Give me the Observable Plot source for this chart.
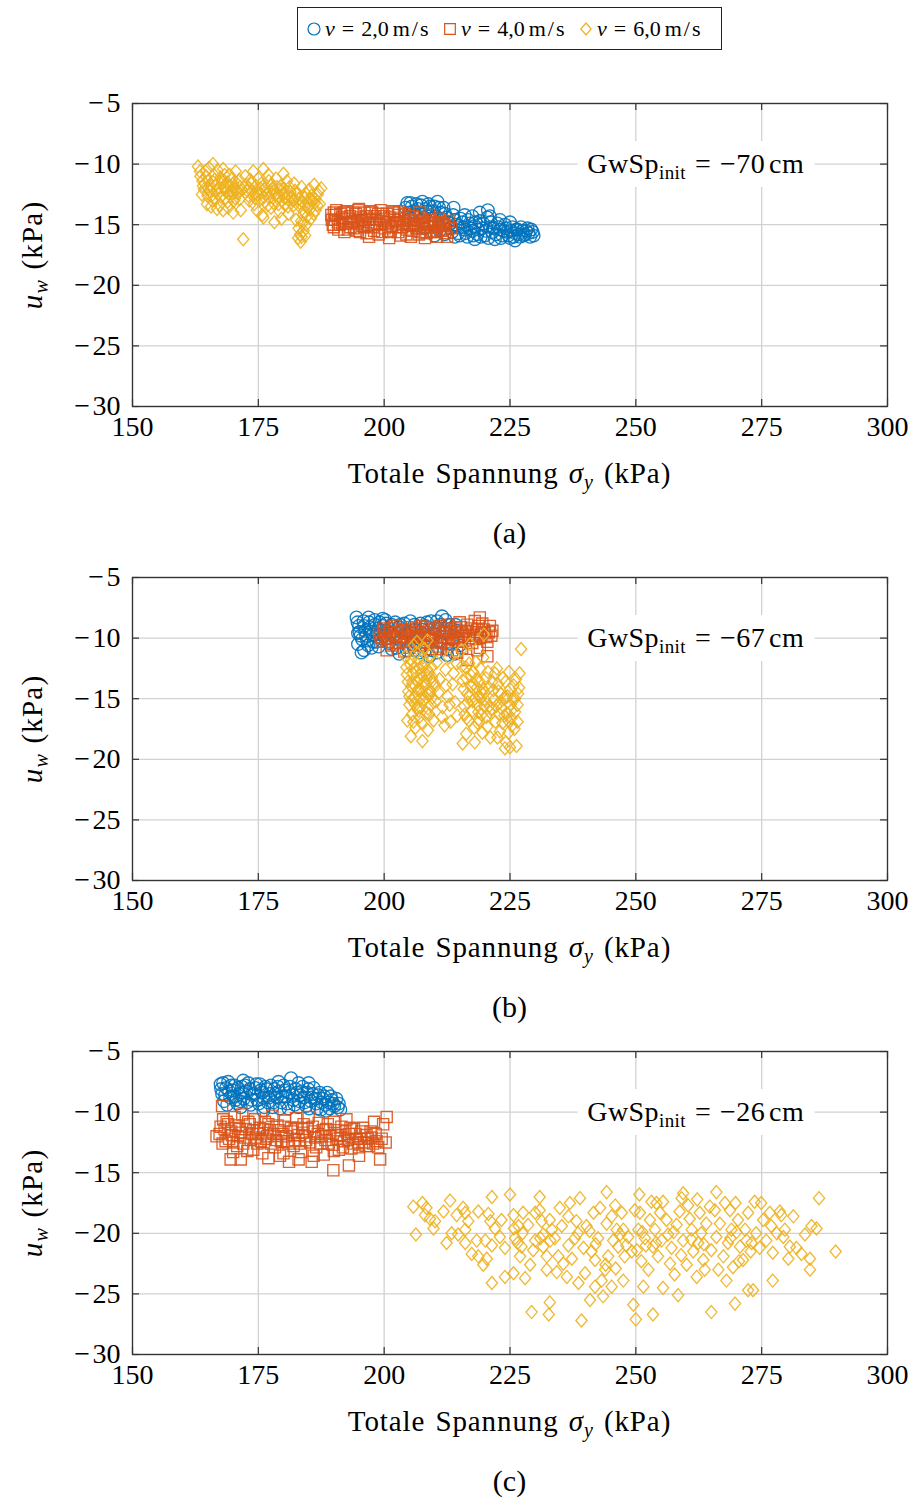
<!DOCTYPE html>
<html><head><meta charset="utf-8">
<script src="https://cdn.jsdelivr.net/npm/d3@7"></script>
<script src="https://cdn.jsdelivr.net/npm/@observablehq/plot@0.6"></script>
<style>
html,body{margin:0;padding:0;background:#fff;}
body{width:916px;height:1499px;position:relative;overflow:hidden;font-family:"Liberation Serif",serif;color:#000;}
.panel{position:absolute;left:0;width:916px;height:474px;}
.panel svg{position:absolute;left:0;top:0;}
.legend{position:absolute;left:297px;top:7px;width:425px;height:43px;border:1px solid #222;display:flex;align-items:center;padding-left:8px;box-sizing:border-box;font-size:22px;white-space:nowrap;}
.litem{display:flex;align-items:center;width:136px;}
.litem svg{margin-right:3px;}
.eq{margin:0 7px;}
.unit{margin-left:4px;letter-spacing:2px;}
.annot{position:absolute;transform:translate(-50%,-50%);background:#fff;padding:8px 10px;font-size:28px;line-height:30px;letter-spacing:0.4px;white-space:nowrap;}
.annot .eq{margin:0 9px;}
.annot sub{font-size:19px;line-height:0;vertical-align:-6px;}
.xlab{position:absolute;left:509.5px;transform:translateX(-50%);font-size:29px;line-height:30px;letter-spacing:0.9px;word-spacing:2px;white-space:nowrap;}
.xlab sub{font-size:20px;line-height:0;vertical-align:-6px;}
.ylab{position:absolute;left:32px;top:171.5px;transform:translate(-50%,-50%) rotate(-90deg);font-size:29px;line-height:30px;letter-spacing:1.2px;word-spacing:1px;white-space:nowrap;}
.ylab sub{font-size:20px;line-height:0;vertical-align:-6px;}
.cap{position:absolute;left:509.5px;transform:translateX(-50%);font-size:30px;line-height:30px;}
</style></head><body>
<div id="legend" class="legend"></div>
<div id="p0" class="panel" style="top:83px"></div>
<div id="p1" class="panel" style="top:557px"></div>
<div id="p2" class="panel" style="top:1031px"></div>
<script>
// ---- axes / labels ----
const xTicks = [150, 175, 200, 225, 250, 275, 300];
const yTicks = [-30, -25, -20, -15, -10, -5];
const speeds = ["2,0", "4,0", "6,0"];
const colors = ["#0072BD", "#D95319", "#EDB120"];
const gwInit = ["−70", "−67", "−26"];
const captions = ["(a)", "(b)", "(c)"];
const annotX = 262, annotY = -10;

// ---- panel (a) ----
const a_v2 = [[204.3,-13.6],[204.8,-14.4],[205.2,-13.2],[205.8,-13.9],[206.4,-13.3],[207.0,-14.1],[207.6,-13.1],[208.2,-13.7],[208.8,-13.3],[209.4,-14.2],[210.0,-13.5],[210.6,-13.1],[211.2,-14.0],[211.8,-13.6],[212.4,-14.4],[213.0,-14.9],[213.5,-15.6],[214.0,-14.6],[214.5,-15.2],[215.0,-15.9],[215.5,-14.8],[216.0,-15.4],[216.5,-16.0],[217.0,-14.9],[217.5,-15.5],[218.0,-15.1],[218.5,-15.8],[219.0,-14.7],[219.5,-15.3],[220.0,-15.9],[220.5,-14.4],[221.0,-15.2],[221.5,-15.6],[222.0,-16.2],[222.5,-14.9],[223.0,-15.4],[223.5,-15.9],[224.0,-15.0],[224.5,-15.6],[225.0,-16.1],[225.5,-15.2],[226.0,-15.7],[226.5,-15.4],[227.0,-16.0],[227.5,-15.5],[228.0,-15.8],[228.5,-15.3],[229.0,-16.0],[229.5,-15.6],[212.0,-15.8],[210.0,-15.9],[208.0,-15.3],[206.0,-14.9],[219.0,-14.0],[213.8,-13.6],[223.0,-14.6],[216.0,-14.2],[220.6,-13.8],
 [204.6,-13.2],[205.0,-14.0],[205.5,-13.5],[206.1,-14.3],[206.7,-13.7],[207.3,-13.4],[207.9,-14.4],[208.5,-13.9],[209.1,-13.5],[209.7,-13.9],[210.3,-14.3],[210.9,-13.6],[211.5,-14.5],[212.1,-14.1],[212.7,-14.8],[213.2,-15.3],[213.7,-14.2],[214.2,-15.0],[214.7,-15.7],[215.2,-14.5],[215.7,-15.2],[216.2,-15.7],[216.7,-14.6],[217.2,-15.3],[217.7,-15.9],[218.2,-14.8],[218.7,-15.4],[219.2,-16.0],[219.7,-14.9],[220.2,-15.5],[220.7,-16.1],[221.2,-14.8],[221.7,-15.3],[222.2,-15.8],[222.7,-15.2],[223.2,-16.1],[223.7,-15.5],[224.2,-15.3],[224.7,-15.9],[225.2,-15.5],[225.7,-16.0],[226.2,-15.4],[226.7,-15.8],[227.2,-15.2],[227.7,-15.9],[228.2,-15.5],[228.7,-15.7],[229.2,-15.4],[229.7,-15.9],[221.0,-14.3],[225.0,-14.8],[217.5,-14.3],[211.0,-15.5],[214.0,-16.0],[218.0,-16.2],[226.0,-16.3]];
const a_v4 = [[189.5,-14.2],[189.8,-15.0],[190.2,-14.6],[190.5,-13.8],[190.9,-15.4],[191.3,-14.1],[191.7,-14.9],[192.1,-15.6],[192.5,-13.9],[192.9,-14.5],[193.3,-15.2],[193.7,-14.0],[194.1,-14.7],[194.5,-15.5],[194.9,-13.8],[195.3,-14.4],[195.7,-15.1],[196.1,-14.0],[196.5,-15.7],[196.9,-14.6],[197.3,-13.9],[197.7,-15.2],[198.1,-14.3],[198.5,-14.9],[198.9,-15.8],[199.3,-13.8],[199.7,-14.5],[200.1,-15.3],[200.5,-14.1],[200.9,-14.8],[201.3,-15.6],[201.7,-13.9],[202.1,-14.6],[202.5,-15.2],[202.9,-14.2],[203.3,-15.9],[203.7,-14.9],[204.1,-14.1],[204.5,-15.4],[204.9,-14.6],[205.3,-16.0],[205.7,-14.3],[206.1,-15.1],[206.5,-14.7],[206.9,-15.8],[207.3,-14.4],[207.7,-15.3],[208.1,-16.1],[208.5,-14.9],[208.9,-14.2],[209.3,-15.6],[209.7,-14.8],[210.1,-15.2],[210.5,-16.0],[210.9,-14.5],[211.3,-15.4],[211.7,-14.9],[212.1,-15.7],[212.8,-14.7],[213.3,-15.3],
 [189.6,-14.6],[190.0,-15.2],[190.4,-14.2],[190.8,-14.8],[191.2,-15.0],[191.6,-14.4],[192.0,-14.0],[192.4,-14.9],[192.8,-15.4],[193.2,-14.3],[193.6,-14.8],[194.0,-15.3],[194.4,-14.1],[194.8,-14.9],[195.2,-15.6],[195.6,-14.6],[196.0,-15.2],[196.4,-14.3],[196.8,-15.0],[197.2,-14.5],[197.6,-14.0],[198.0,-15.5],[198.4,-14.6],[198.8,-14.1],[199.2,-15.0],[199.6,-15.6],[200.0,-14.3],[200.4,-14.9],[200.8,-15.5],[201.2,-14.4],[201.6,-15.1],[202.0,-14.0],[202.4,-14.8],[202.8,-15.6],[203.2,-14.5],[203.6,-15.2],[204.0,-14.7],[204.4,-15.8],[204.8,-14.3],[205.2,-15.0],[205.6,-15.5],[206.0,-14.6],[206.4,-15.3],[206.8,-14.9],[207.2,-15.6],[207.6,-14.7],[208.0,-15.0],[208.4,-15.7],[208.8,-15.2],[209.2,-14.6],[209.6,-15.5],[210.0,-14.9],[210.4,-15.6],[210.8,-15.1],[211.2,-14.8],[211.6,-15.5],[212.0,-15.0],[190.0,-14.0],[195.0,-13.7],[203.0,-13.9],[207.0,-14.0],[197.0,-16.0],[201.0,-16.1],[212.5,-16.0]];
const a_v6 = [[163.0,-10.2],[163.5,-11.0],[164.0,-11.8],[163.8,-12.5],[164.5,-10.6],[165.0,-11.4],[165.3,-12.2],[165.8,-13.0],[166.0,-10.0],[166.2,-10.9],[166.6,-11.7],[167.0,-12.4],[167.3,-13.4],[167.5,-11.1],[168.0,-10.4],[168.2,-12.0],[168.5,-12.8],[168.8,-11.5],[169.0,-13.6],[169.3,-10.9],[169.6,-12.2],[170.0,-11.6],[170.2,-13.0],[170.5,-10.6],[170.8,-12.4],[171.2,-11.3],[171.5,-13.8],[166.8,-13.7],[164.8,-13.3],[172.0,-16.2],[172.4,-11.0],[172.8,-12.2],[173.2,-13.0],[173.6,-11.6],[174.0,-10.6],[174.3,-12.8],[174.7,-13.8],[175.0,-11.2],[175.4,-12.0],[175.8,-14.2],[176.0,-10.4],[176.3,-13.1],[176.7,-12.4],[177.1,-11.4],[177.5,-13.6],[177.8,-12.0],[178.2,-14.8],[178.5,-11.2],[178.8,-12.8],[179.2,-13.9],[179.5,-11.8],[179.9,-12.5],[180.3,-13.3],[180.7,-11.4],[181.0,-14.1],[181.4,-12.3],[181.8,-13.0],[182.1,-11.6],[182.5,-14.6],[182.8,-12.4],[183.0,-15.3],[183.2,-13.5],[183.4,-16.4],[183.6,-11.9],[183.9,-14.2],[184.2,-12.8],[184.5,-15.0],[184.8,-13.6],[185.1,-12.1],[185.4,-14.5],[185.8,-13.0],[186.1,-11.7],[186.4,-13.8],[186.8,-12.5],[187.2,-13.3],[187.5,-12.0],[183.3,-15.8],[182.9,-16.1],
 [163.4,-10.6],[163.9,-11.4],[164.2,-12.1],[164.6,-11.0],[164.9,-12.6],[165.2,-10.3],[165.5,-11.8],[165.9,-12.5],[166.3,-11.3],[166.5,-12.9],[166.9,-10.5],[167.2,-11.9],[167.6,-12.7],[167.9,-11.5],[168.3,-10.9],[168.6,-12.3],[168.9,-13.1],[169.2,-11.8],[169.5,-12.6],[169.8,-11.2],[170.1,-12.0],[170.4,-12.8],[170.7,-11.6],[171.0,-12.3],[171.3,-12.9],[171.7,-12.1],[165.6,-13.5],[168.0,-13.8],[170.0,-14.0],
 [172.6,-11.7],[173.0,-12.6],[173.4,-11.3],[173.8,-12.2],[174.2,-13.3],[174.5,-11.8],[174.9,-12.5],[175.2,-13.0],[175.6,-11.6],[176.1,-12.7],[176.5,-11.9],[176.9,-13.4],[177.3,-12.3],[177.7,-11.7],[178.0,-13.2],[178.4,-12.5],[178.7,-11.9],[179.0,-13.3],[179.4,-12.1],[179.7,-13.0],[180.1,-12.0],[180.5,-12.8],[180.9,-13.5],[181.2,-11.9],[181.6,-12.7],[182.0,-13.4],[182.3,-12.2],[176.0,-14.4],[179.6,-14.5],[177.0,-10.9],[180.0,-10.8],
 [183.0,-12.9],[183.5,-14.7],[183.8,-13.1],[184.1,-13.9],[184.4,-12.4],[184.7,-14.3],[185.0,-13.2],[185.3,-13.7],[185.6,-12.6],[186.0,-14.1],[186.3,-12.9],[186.7,-13.4],[187.0,-12.2],[184.0,-15.5],[183.6,-16.0],
 [164.3,-11.6],[165.1,-12.0],[166.0,-11.5],[166.8,-12.2],[167.7,-11.4],[168.4,-11.9],[169.1,-12.4],[169.9,-12.3],[170.6,-12.1],[171.4,-11.9],[173.1,-12.0],[174.0,-12.6],[175.0,-12.3],[176.2,-12.1],[177.2,-12.8],[178.1,-12.3],[179.1,-12.6],[180.2,-12.4],[181.1,-13.0],[182.2,-12.9],[183.2,-13.2],[184.3,-13.4],[185.2,-12.9],[186.2,-13.2],[183.7,-14.9],[184.3,-15.9]];

// ---- panel (b) ----
const b_v2 = [[194.5,-8.3],[195.0,-9.0],[195.3,-9.8],[194.8,-10.5],[195.5,-11.2],[195.9,-8.6],[196.2,-9.4],[196.6,-10.2],[196.9,-8.3],[197.2,-9.1],[197.5,-10.8],[197.8,-9.7],[198.1,-8.5],[198.4,-10.3],[198.8,-9.2],[199.1,-8.7],[199.4,-10.0],[199.8,-9.0],[200.2,-8.5],[200.6,-9.4],[201.0,-10.4],[201.5,-8.9],[202.0,-9.8],[202.5,-10.8],[203.0,-9.1],[203.5,-10.1],[204.0,-8.8],[204.5,-11.0],[205.0,-9.5],[205.5,-10.5],[206.0,-8.9],[206.5,-10.0],[207.0,-11.2],[207.5,-9.3],[208.0,-10.6],[208.5,-8.7],[209.0,-9.8],[209.5,-11.0],[210.0,-9.2],[210.5,-8.6],[211.0,-10.3],[211.5,-8.2],[212.0,-9.6],[212.5,-10.9],[213.0,-8.9],[213.5,-10.1],[214.0,-11.3],[214.5,-9.4],[215.0,-10.6],[209.0,-11.5],[203.0,-11.3],
 [194.7,-8.7],[195.1,-9.5],[195.6,-10.1],[196.0,-9.0],[196.4,-9.8],[196.8,-10.6],[197.0,-8.7],[197.4,-9.5],[197.9,-10.3],[198.2,-8.9],[198.6,-9.6],[198.9,-10.7],[199.3,-9.4],[199.7,-8.4],[200.0,-9.8],[200.4,-8.8],[201.2,-9.6],[202.2,-8.7],[203.2,-8.9],[204.2,-9.6],[205.2,-8.6],[206.2,-9.3],[207.2,-8.8],[208.2,-9.0],[209.3,-8.6],[210.2,-9.7],[211.2,-8.9],[212.2,-8.5],[213.2,-9.2],[214.2,-8.9],[208.0,-11.1],[210.5,-11.2],[212.5,-11.4],[206.0,-11.0],[201.5,-10.9],[196.0,-11.0],[194.8,-9.6]];
const b_v4 = [[199.0,-9.6],[199.5,-10.3],[200.0,-9.2],[200.5,-10.0],[201.0,-9.5],[201.5,-10.6],[202.0,-9.0],[202.5,-9.9],[203.0,-10.4],[203.5,-9.3],[204.0,-10.0],[204.5,-9.6],[205.0,-10.8],[205.5,-9.1],[206.0,-10.2],[206.5,-9.5],[207.0,-10.6],[207.5,-9.0],[208.0,-9.8],[208.5,-10.4],[209.0,-9.3],[209.5,-10.1],[210.0,-9.6],[210.5,-10.7],[211.0,-9.0],[211.5,-9.9],[212.0,-10.3],[212.5,-8.9],[213.0,-9.7],[213.5,-10.5],[214.0,-9.2],[214.5,-10.0],[215.0,-8.7],[215.5,-9.5],[216.0,-10.2],[216.5,-8.9],[217.0,-9.7],[217.5,-10.4],[218.0,-8.6],[218.5,-9.3],[219.0,-10.0],[219.5,-8.8],[220.0,-9.6],[220.5,-10.3],[221.0,-9.0],[221.5,-9.4],[219.0,-8.3],[214.5,-11.2],[216.5,-11.8],[218.5,-11.0],[220.5,-11.5],[211.0,-10.9],[200.5,-11.0],[204.0,-11.1],
 [199.3,-9.9],[199.8,-9.4],[200.3,-9.7],[200.8,-10.3],[201.3,-9.2],[201.8,-9.8],[202.3,-10.4],[202.8,-9.5],[203.3,-9.9],[203.8,-9.4],[204.3,-10.3],[204.8,-9.3],[205.3,-9.8],[205.8,-10.5],[206.3,-9.2],[206.8,-9.9],[207.3,-10.3],[207.8,-9.5],[208.3,-9.1],[208.8,-10.0],[209.3,-9.7],[209.8,-9.2],[210.3,-10.2],[210.8,-9.4],[211.3,-10.4],[211.8,-9.5],[212.3,-9.2],[212.8,-10.1],[213.3,-9.4],[213.8,-9.9],[214.3,-9.5],[214.8,-10.3],[215.3,-9.1],[215.8,-9.8],[216.3,-9.4],[216.8,-10.0],[217.3,-9.2],[217.8,-9.8],[218.3,-9.5],[218.8,-9.0],[219.3,-9.7],[219.8,-9.3],[220.3,-9.9],[220.8,-9.5],[221.3,-9.8],[215.5,-10.8],[219.0,-10.8],[209.5,-10.9],[213.5,-11.0]];
const b_v6 = [[204.2,-11.5],[204.5,-13.0],[204.8,-14.4],[205.0,-15.5],[205.2,-12.2],[205.5,-16.3],[205.6,-13.7],[205.9,-10.6],[206.1,-14.9],[206.3,-12.8],[206.6,-15.8],[206.8,-11.7],[207.0,-13.4],[207.2,-14.2],[207.4,-17.0],[207.6,-12.3],[207.8,-15.1],[208.0,-10.9],[208.2,-13.9],[208.4,-16.2],[208.6,-12.6],[208.8,-14.7],[209.0,-11.4],[209.3,-15.5],[209.5,-13.2],[209.8,-16.8],[210.1,-14.0],[210.4,-12.0],[205.3,-18.1],[207.6,-18.5],[206.2,-17.4],[204.6,-16.8],[208.7,-17.6],[211.0,-13.4],[211.6,-15.7],[212.2,-12.6],[212.6,-14.8],[213.2,-16.9],[213.6,-13.8],[214.1,-15.3],[214.4,-12.1],[215.6,-18.7],[212.0,-17.2],[215.3,-11.0],[215.6,-13.5],[215.9,-15.6],[216.2,-12.4],[216.5,-14.6],[216.8,-16.8],[217.1,-10.5],[217.3,-13.1],[217.6,-15.2],[217.9,-17.4],[218.2,-12.0],[218.4,-14.1],[218.7,-16.1],[219.0,-13.6],[219.2,-15.0],[219.5,-17.8],[219.7,-11.6],[220.0,-14.5],[220.3,-16.5],[220.6,-12.8],[220.9,-15.6],[221.1,-18.2],[218.0,-18.6],[216.3,-17.9],[219.8,-9.7],[221.5,-13.6],[221.8,-15.1],[222.1,-16.9],[222.4,-12.5],[222.7,-14.4],[223.0,-17.7],[223.3,-15.8],[223.6,-13.3],[223.9,-16.4],[224.2,-18.6],[224.5,-14.8],[224.8,-12.8],[225.1,-15.5],[225.4,-17.2],[225.7,-13.9],[226.0,-16.1],[226.3,-18.9],[226.6,-14.6],[226.9,-12.9],[227.2,-10.9],[224.0,-19.1],[226.5,-15.5],[222.5,-18.2],[225.0,-19.0],
 [204.4,-12.4],[204.7,-13.6],[205.0,-14.8],[205.3,-11.8],[205.4,-15.1],[205.7,-12.9],[206.0,-13.9],[206.2,-15.5],[206.4,-11.2],[206.7,-14.3],[207.0,-12.5],[207.1,-15.7],[207.3,-13.0],[207.5,-14.6],[207.7,-11.6],[207.9,-13.6],[208.1,-12.1],[208.3,-14.9],[208.5,-13.3],[208.7,-15.8],[208.9,-12.9],[209.1,-14.3],[209.4,-12.4],[209.6,-14.9],[209.9,-13.7],[210.2,-15.2],[205.8,-16.9],[207.0,-16.5],[209.0,-16.3],[206.5,-10.3],[208.6,-10.2],
 [215.5,-12.3],[215.8,-14.2],[216.0,-16.3],[216.3,-13.3],[216.6,-15.3],[216.9,-12.1],[217.2,-14.0],[217.5,-16.0],[217.7,-12.8],[218.0,-15.0],[218.3,-13.4],[218.6,-17.0],[218.9,-14.8],[219.1,-12.5],[219.4,-16.3],[219.6,-14.2],[219.9,-15.6],[220.2,-13.3],[220.5,-17.3],[220.8,-14.1],[221.0,-16.1],
 [221.7,-14.3],[222.0,-12.9],[222.3,-15.6],[222.6,-13.8],[222.9,-16.3],[223.2,-14.6],[223.5,-17.0],[223.8,-15.0],[224.1,-13.6],[224.4,-16.2],[224.7,-17.8],[225.0,-14.2],[225.3,-16.6],[225.6,-15.0],[225.9,-17.5],[226.2,-13.4],[226.5,-16.9],[226.8,-14.1],
 [210.8,-14.5],[211.5,-16.5],[212.3,-13.9],[213.0,-15.5],[213.8,-12.9],[214.5,-16.4],[212.8,-11.6],
 [205.4,-14.0],[206.0,-12.4],[206.6,-13.6],[207.2,-15.0],[207.8,-14.0],[208.4,-13.0],[209.0,-14.5],[209.6,-13.5],[206.8,-16.0],[217.0,-14.8],[217.8,-13.8],[218.5,-15.5],[219.3,-14.5],[220.1,-15.1],[221.4,-15.8],[223.0,-15.3],[224.0,-14.9],[225.2,-16.0],[226.0,-15.0],[224.6,-16.8],[218.8,-16.7],[216.4,-16.6]];

// ---- panel (c) ----
const c_v2 = [[167.5,-7.7],[167.8,-8.5],[168.2,-9.1],[168.6,-8.0],[169.0,-7.5],[169.4,-8.8],[169.9,-8.2],[170.3,-7.8],[170.8,-9.3],[171.2,-8.5],[171.7,-7.9],[172.1,-8.9],[172.6,-8.3],[173.0,-7.6],[173.5,-9.4],[173.9,-8.6],[174.4,-8.0],[174.8,-9.0],[175.3,-7.7],[175.7,-8.4],[176.2,-9.6],[176.6,-8.1],[177.1,-8.8],[177.5,-7.8],[178.0,-9.2],[178.4,-8.5],[178.9,-7.9],[179.3,-9.7],[179.8,-8.7],[180.2,-8.2],[180.7,-9.3],[181.1,-8.4],[181.5,-7.2],[182.0,-9.0],[182.4,-8.1],[182.9,-9.6],[183.3,-8.6],[183.8,-7.9],[184.2,-9.2],[184.7,-8.4],[185.1,-9.7],[185.6,-8.8],[186.0,-8.0],[186.5,-9.3],[186.9,-8.6],[187.4,-9.8],[187.8,-8.9],[188.3,-9.4],[188.7,-8.4],[189.2,-9.7],[189.6,-9.0],[190.1,-9.5],[190.5,-8.9],[191.0,-9.3],[191.3,-9.8],[176.0,-9.9],[171.5,-9.6],[185.0,-7.6],
 [167.6,-8.1],[168.0,-7.6],[168.4,-8.6],[168.8,-9.4],[169.2,-8.3],[169.6,-7.8],[170.0,-8.7],[170.5,-9.0],[171.0,-8.0],[171.4,-9.1],[171.9,-8.4],[172.4,-7.8],[172.8,-9.2],[173.3,-8.1],[173.7,-9.0],[174.2,-8.5],[174.6,-7.7],[175.1,-9.3],[175.5,-8.2],[176.0,-8.8],[176.4,-7.9],[176.9,-9.2],[177.3,-8.5],[177.8,-9.6],[178.2,-8.1],[178.7,-8.8],[179.1,-8.3],[179.6,-9.2],[180.0,-7.8],[180.5,-8.7],[181.0,-9.7],[181.3,-7.9],[181.8,-8.6],[182.2,-9.4],[182.7,-8.4],[183.1,-9.1],[183.6,-8.3],[184.0,-8.8],[184.5,-9.5],[184.9,-8.1],[185.4,-9.1],[185.8,-8.5],[186.3,-8.9],[186.7,-9.7],[187.2,-8.4],[187.6,-9.2],[188.1,-8.7],[188.5,-9.9],[189.0,-9.2],[189.4,-8.7],[189.9,-9.3],[190.8,-9.6],[183.0,-7.6],[179.0,-7.5],[172.0,-7.4]];
const c_v4 = [[167.8,-9.5],[166.7,-12.0],[169.5,-13.9],[167.5,-11.2],[168.0,-10.6],[168.5,-12.4],[169.0,-11.0],[169.8,-11.9],[170.3,-10.4],[170.8,-12.8],[171.3,-11.4],[171.8,-10.2],[172.3,-12.1],[172.8,-13.2],[173.3,-11.0],[173.8,-11.8],[174.3,-10.6],[174.8,-12.6],[175.3,-11.3],[175.8,-13.4],[176.3,-10.8],[176.8,-12.0],[177.3,-11.5],[177.8,-10.3],[178.3,-12.9],[178.8,-11.1],[179.3,-13.6],[179.8,-11.8],[180.3,-10.7],[180.8,-12.4],[181.1,-14.1],[181.5,-11.3],[182.0,-12.8],[182.5,-10.5],[183.0,-11.9],[183.5,-13.3],[184.0,-11.0],[184.5,-12.3],[185.0,-10.4],[185.6,-14.1],[186.0,-11.6],[186.5,-12.9],[187.0,-10.9],[187.5,-12.0],[188.0,-13.5],[188.5,-11.4],[189.0,-12.6],[189.9,-14.8],[190.0,-10.8],[190.5,-11.9],[191.0,-13.1],[191.5,-11.2],[192.0,-12.4],[192.5,-10.6],[193.0,-11.8],[193.5,-13.0],[194.0,-11.4],[194.5,-12.2],[195.0,-12.9],[195.5,-11.6],[196.0,-12.5],[196.5,-11.9],[197.0,-12.8],[197.5,-12.1],[198.0,-10.8],[198.5,-12.4],[199.2,-13.9],[200.3,-12.5],[200.5,-10.4],[171.5,-13.9],[177.0,-13.8],[183.0,-13.9],[193.0,-14.4],
 [167.3,-11.8],[167.9,-12.6],[168.3,-11.4],[168.7,-10.8],[169.2,-12.2],[169.6,-11.6],[170.0,-12.5],[170.5,-11.1],[171.0,-12.0],[171.5,-11.7],[172.0,-12.6],[172.5,-11.4],[173.0,-10.8],[173.5,-12.3],[174.0,-11.5],[174.5,-12.1],[175.0,-11.8],[175.5,-12.4],[176.0,-11.4],[176.5,-12.2],[177.0,-11.0],[177.5,-12.6],[178.0,-11.8],[178.5,-12.3],[179.0,-11.5],[179.5,-12.4],[180.0,-11.2],[180.5,-12.0],[181.0,-12.6],[181.8,-11.6],[182.3,-12.3],[182.8,-11.3],[183.3,-12.6],[183.8,-11.7],[184.3,-12.0],[184.8,-11.4],[185.3,-12.5],[185.8,-11.2],[186.3,-12.1],[186.8,-11.8],[187.3,-12.6],[187.8,-11.5],[188.3,-12.3],[188.8,-11.0],[189.3,-12.0],[189.8,-12.7],[190.3,-11.5],[190.8,-12.2],[191.3,-11.9],[191.8,-12.9],[192.3,-11.6],[192.8,-12.3],[193.3,-11.3],[193.8,-12.6],[194.3,-11.8],[194.8,-12.5],[195.3,-12.2],[195.8,-11.3],[196.3,-12.8],[196.8,-12.2],[197.3,-11.6],[197.8,-12.6],[198.3,-11.8],[198.8,-12.9],[199.5,-12.2],[199.8,-11.0],[170.0,-13.3],[174.0,-13.1],[180.0,-13.4],[186.0,-13.6],[190.0,-13.2],[195.0,-13.6]];
const c_v6 = [[205.8,-17.8],[206.3,-20.1],[207.6,-17.5],[208.4,-17.9],[208.1,-18.5],[209.1,-18.8],[210.1,-19.0],[209.8,-19.6],[211.8,-18.2],[213.1,-17.3],[212.4,-20.8],[213.4,-20.0],[214.4,-18.5],[215.7,-17.9],[216.1,-18.3],[216.7,-19.0],[216.1,-19.7],[216.1,-20.8],[214.7,-20.1],[217.4,-21.7],[218.7,-18.2],[218.4,-20.6],[218.7,-21.9],[219.7,-22.6],[220.1,-20.6],[220.7,-18.4],[221.1,-19.0],[221.4,-17.0],[221.4,-21.0],[221.4,-24.1],[220.4,-22.1],[222.0,-19.6],[223.3,-18.9],[223.0,-20.3],[224.0,-21.2],[224.0,-23.6],[225.0,-16.8],[225.7,-18.5],[225.7,-23.3],[226.0,-20.4],[226.7,-19.4],[227.0,-21.9],[227.6,-18.3],[227.3,-21.1],[228.0,-23.7],[228.6,-19.3],[229.0,-22.6],[229.3,-26.5],[230.0,-18.3],[230.0,-20.6],[229.6,-21.4],[230.9,-17.0],[230.9,-18.1],[231.3,-19.0],[231.6,-20.1],[231.6,-21.1],[232.3,-21.9],[232.3,-23.0],[232.9,-25.7],[232.7,-26.7],[232.9,-18.9],[233.3,-19.7],[233.9,-20.4],[234.3,-23.2],[234.6,-21.9],[234.9,-17.9],[235.3,-19.4],[235.6,-22.5],[236.3,-23.6],[236.6,-18.6],[236.9,-17.5],[236.6,-21.0],[237.3,-22.1],[237.9,-20.4],[238.2,-19.0],[238.6,-24.1],[238.9,-17.1],[239.2,-27.2],[239.6,-21.2],[239.9,-23.3],[240.2,-19.4],[240.9,-25.5],[241.2,-21.5],[241.6,-18.3],[241.9,-22.2],[241.9,-24.4],[242.5,-20.4],[242.9,-17.9],[243.2,-23.9],[243.5,-25.2],[243.9,-23.0],[244.2,-16.6],[244.2,-19.2],[244.5,-21.9],[245.2,-24.4],[245.2,-18.6],[245.9,-17.7],[246.2,-19.7],[246.9,-20.1],[246.5,-21.1],
 [247.2,-18.3],[247.5,-19.7],[247.8,-21.9],[247.5,-23.9],[248.1,-21.0],[249.5,-25.9],[250.0,-27.1],[249.8,-18.1],[250.7,-16.8],[250.8,-18.3],[250.5,-19.7],[250.2,-21.4],[251.1,-22.3],[251.5,-24.4],[251.8,-20.4],[252.5,-23.0],[252.8,-18.9],[253.1,-17.4],[253.4,-21.1],[253.4,-26.7],[254.1,-17.5],[253.8,-19.7],[254.4,-21.9],[254.8,-18.3],[255.1,-20.6],[255.4,-17.4],[255.4,-24.5],[256.1,-18.9],[256.4,-20.1],[256.8,-22.5],[257.1,-21.2],[257.7,-23.4],[258.1,-19.3],[258.4,-25.1],[258.7,-18.2],[259.1,-17.1],[259.4,-16.7],[259.4,-20.6],[260.1,-22.6],[260.4,-17.7],[260.7,-18.8],[261.1,-19.7],[261.4,-21.5],[262.1,-23.6],[262.2,-17.2],[262.4,-20.8],[262.7,-18.3],[263.0,-20.0],[263.4,-22.2],[263.7,-23.0],[264.0,-19.2],[264.7,-17.8],[265.0,-21.4],[265.0,-26.5],[265.7,-18.1],[266.0,-16.6],[266.0,-20.3],[266.4,-23.0],[266.7,-19.2],[267.4,-21.9],[267.7,-17.5],[268.0,-23.9],[268.3,-20.8],[268.7,-18.1],[269.0,-19.7],[269.3,-22.8],[269.7,-25.8],[269.8,-17.5],[270.3,-18.9],[270.7,-21.1],[271.3,-22.2],[271.7,-19.7],[272.3,-18.3],[272.3,-24.7],[273.0,-20.8],[273.3,-24.7],[273.6,-17.4],[273.9,-20.0],[274.6,-21.2],[274.9,-17.5],[275.3,-18.9],[275.9,-20.6],[276.6,-18.3],[276.9,-19.4],[277.2,-21.6],[277.2,-23.9],[278.0,-20.0],[278.6,-18.2],[278.9,-18.5],[279.3,-20.3],[279.6,-19.7],[280.3,-22.1],[280.6,-21.1],[281.3,-18.6],[281.9,-21.2],[282.9,-21.7],[283.6,-20.1],[284.6,-22.1],[284.6,-23.0],[284.9,-19.4],[285.9,-19.6],[286.4,-17.1],[289.7,-21.5],
 [248.5,-20.3],[249.2,-21.5],[251.3,-19.9],[252.0,-21.0],[254.0,-20.8],[257.5,-19.9],[259.0,-21.8],[261.0,-20.5],[263.5,-20.9],[268.8,-20.4],[270.0,-19.9],[272.0,-20.6],[272.8,-21.5],[245.5,-20.6],[242.0,-20.9],[240.8,-19.8],[238.5,-20.0],[233.0,-20.6],[231.0,-20.4],[227.5,-20.0],[226.5,-20.8],[225.8,-19.6],[244.0,-22.6],[246.0,-22.9],[270.5,-22.3]];

const panels = [
  [a_v2, a_v4, a_v6],
  [b_v2, b_v4, b_v6],
  [c_v2, c_v4, c_v6]
];

// diamond marker (pgfplots-like proportions)
const diamondSym = {
  draw(ctx, size) {
    const r = Math.sqrt(size / Math.PI);
    const h = r * 1.0, w = r * 0.86;
    ctx.moveTo(0, -h); ctx.lineTo(w, 0); ctx.lineTo(0, h); ctx.lineTo(-w, 0); ctx.closePath();
  }
};
const symbols = ["circle", "square", diamondSym];
const radii = [6.3, 6.3, 6.5];

const W = 916, H = 474, mL = 132, mR = 29, mT = 20, mB = 151;
const iw = W - mL - mR, ih = H - mT - mB;
const fmt = d => d < 0 ? "\u2212\u200A" + Math.abs(d) : String(d);

panels.forEach((series, i) => {
  const marks = [
    Plot.gridX(xTicks, {stroke: "#d2d2d2", strokeOpacity: 1, strokeWidth: 1.3}),
    Plot.gridY(yTicks, {stroke: "#d2d2d2", strokeOpacity: 1, strokeWidth: 1.3}),
  ];
  series.forEach((data, k) => {
    marks.push(Plot.dot(data, {
      x: d => d[0], y: d => d[1],
      symbol: symbols[k], r: radii[k],
      stroke: colors[k], fill: "none", strokeWidth: 1.35, strokeOpacity: 0.9
    }));
  });
  marks.push(
    Plot.ruleY(yTicks, {stroke: "#333", strokeWidth: 1.2, insetRight: iw - 7}),
    Plot.ruleY(yTicks, {stroke: "#333", strokeWidth: 1.2, insetLeft: iw - 7}),
    Plot.ruleX(xTicks, {stroke: "#333", strokeWidth: 1.2, insetTop: ih - 7}),
    Plot.ruleX(xTicks, {stroke: "#333", strokeWidth: 1.2, insetBottom: ih - 7}),
    Plot.frame({stroke: "#333", strokeWidth: 1.3}),
    Plot.axisY(yTicks, {tickSize: 0, tickPadding: 12, tickFormat: fmt, label: null}),
    Plot.axisX(xTicks, {tickSize: 0, tickPadding: 10, tickFormat: fmt, label: null})
  );
  const plot = Plot.plot({
    width: W, height: H,
    marginLeft: mL, marginRight: mR, marginTop: mT, marginBottom: mB,
    x: {domain: [150, 300]},
    y: {domain: [-30, -5]},
    style: {fontFamily: "'Liberation Serif', serif", fontSize: "28px", color: "#000", background: "transparent", overflow: "visible"},
    marks
  });
  const host = document.getElementById("p" + i);
  host.appendChild(plot);

  const sx = plot.scale("x"), sy = plot.scale("y");
  const an = document.createElement("div");
  an.className = "annot";
  an.style.left = sx.apply(annotX) + "px";
  an.style.top = sy.apply(annotY) + "px";
  an.innerHTML = `GwSp<sub>init</sub><span class="eq">=</span>${gwInit[i]}<span style="margin-left:4px">cm</span>`;
  host.appendChild(an);

  const xl = document.createElement("div");
  xl.className = "xlab";
  xl.style.top = (mT + ih + 52) + "px";
  xl.innerHTML = `Totale Spannung <i>σ</i><sub><i>y</i></sub> (kPa)`;
  host.appendChild(xl);

  const yl = document.createElement("div");
  yl.className = "ylab";
  yl.innerHTML = `<i>u</i><sub><i>w</i></sub> (kPa)`;
  host.appendChild(yl);

  const cp = document.createElement("div");
  cp.className = "cap";
  cp.style.top = (mT + ih + 112) + "px";
  cp.textContent = captions[i];
  host.appendChild(cp);
});

// legend
const legend = document.getElementById("legend");
speeds.forEach((s, k) => {
  const item = document.createElement("div");
  item.className = "litem";
  const svg = d3.create("svg").attr("width", 16).attr("height", 18);
  const p = d3.symbol(k === 2 ? diamondSym : (k === 0 ? d3.symbolCircle : d3.symbolSquare), Math.PI * 6 * 6)();
  svg.append("path").attr("d", p).attr("transform", "translate(8,9)")
    .attr("fill", "none").attr("stroke", colors[k]).attr("stroke-width", 1.2);
  item.appendChild(svg.node());
  const t = document.createElement("span");
  t.innerHTML = `<i>v</i><span class="eq">=</span>${s}<span class="unit">m/s</span>`;
  item.appendChild(t);
  legend.appendChild(item);
});
</script>
</body></html>
